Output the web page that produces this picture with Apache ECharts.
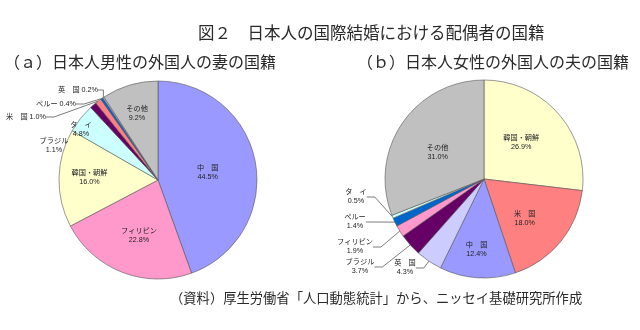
<!DOCTYPE html>
<html>
<head>
<meta charset="utf-8">
<script src="https://cdn.jsdelivr.net/npm/echarts@6/dist/echarts.min.js"></script>
<style>
html,body{margin:0;padding:0;background:#fff;}
#c{width:640px;height:330px;}
</style>
</head>
<body>
<div id="c"></div>
<script>
// ---- data ----
const chartTitle = '図２　日本人の国際結婚における配偶者の国籍';
const leftTitle = '（ａ）日本人男性の外国人の妻の国籍';
const rightTitle = '（ｂ）日本人女性の外国人の夫の国籍';
const sourceNote = '（資料）厚生労働省「人口動態統計」から、ニッセイ基礎研究所作成';

const leftNames = ['中　国', 'フィリピン', '韓国・朝鮮', 'タ　イ', 'ブラジル', '米　国', 'ペルー', '英　国', 'その他'];
const leftValues = [44.5, 22.8, 16.0, 4.8, 1.1, 1.0, 0.4, 0.2, 9.2];

const rightNames = ['韓国・朝鮮', '米　国', '中　国', '英　国', 'ブラジル', 'フィリピン', 'ペルー', 'タ　イ', 'その他'];
const rightValues = [26.9, 18.0, 12.4, 4.3, 3.7, 1.9, 1.4, 0.5, 31.0];

// ---- styles ----
const colors = {
  '中　国': '#9999FF',
  'フィリピン': '#FF99CC',
  '韓国・朝鮮': '#FFFFCC',
  'タ　イ': '#CCFFFF',
  'ブラジル': '#660066',
  '米　国': '#FF8080',
  'ペルー': '#0066CC',
  '英　国': '#CCCCFF',
  'その他': '#C0C0C0'
};
const FONT = "'Liberation Sans', 'Noto Sans CJK JP', sans-serif";
const JFONT = "'Noto Sans CJK JP', sans-serif";

// label placement (text positioning only)
const labelPlace = [
  { // left pie
    '中　国': {dx: -2, dy: 2},
    'フィリピン': {dx: 0, dy: 7},
    '韓国・朝鮮': {dx: -16, dy: -1},
    'タ　イ': {dx: -36, dy: -18},
    'その他': {dx: -6, dy: -16},
    'ブラジル': {out: true, x: 54, y: 146, align: 'center', oneLine: false},
    '米　国': {out: true, x: 46, y: 117, align: 'right', oneLine: true},
    'ペルー': {out: true, x: 76, y: 104, align: 'right', oneLine: true},
    '英　国': {out: true, x: 98, y: 90, align: 'right', oneLine: true}
  },
  { // right pie
    '韓国・朝鮮': {dx: -2, dy: -2},
    '米　国': {dx: 0, dy: 6},
    '中　国': {dx: -4, dy: 18},
    'その他': {dx: -3, dy: 3},
    '英　国': {out: true, x: 405, y: 268, align: 'center'},
    'ブラジル': {out: true, x: 360, y: 267, align: 'center'},
    'フィリピン': {out: true, x: 355, y: 247, align: 'center'},
    'ペルー': {out: true, x: 355, y: 222, align: 'center'},
    'タ　イ': {out: true, x: 356, y: 197, align: 'center'}
  }
];

function buildData(names, values, si) {
  return names.map((n, i) => {
    const p = labelPlace[si][n] || {};
    const txt = p.oneLine ? (n + ' ' + values[i].toFixed(1) + '%') : (n + '\n' + values[i].toFixed(1) + '%');
    return {
      name: n,
      value: values[i],
      itemStyle: {color: colors[n]},
      label: {
        position: p.out ? 'outside' : 'inside',
        formatter: txt
      },
      labelLine: {show: !!p.out}
    };
  });
}

function makeSeries(names, values, si, center) {
  return {
    type: 'pie',
    center: center,
    radius: 99,
    startAngle: 90,
    clockwise: true,
    avoidLabelOverlap: false,
    animation: false,
    silent: true,
    itemStyle: {borderColor: '#555', borderWidth: 0.6},
    label: {
      fontSize: 7.2,
      lineHeight: 9,
      color: '#222',
      fontFamily: FONT,
      align: 'center'
    },
    labelLine: {
      show: false,
      length: 10,
      length2: 8,
      smooth: false,
      lineStyle: {color: '#444', width: 0.7}
    },
    labelLayout: function (params) {
      const n = names[params.dataIndex];
      const p = labelPlace[si][n];
      if (!p) return {};
      if (p.out) {
        return {x: p.x, y: p.y, align: p.align, verticalAlign: 'middle'};
      }
      return {dx: p.dx, dy: p.dy};
    },
    data: buildData(names, values, si)
  };
}

const chart = echarts.init(document.getElementById('c'), null, {renderer: 'canvas'});
chart.setOption({
  backgroundColor: '#fff',
  animation: false,
  title: [
    {text: chartTitle, left: 198, top: 24, padding: 0,
     textStyle: {fontSize: 16.5, fontWeight: 'normal', color: '#2a2a2a', fontFamily: JFONT, lineHeight: 17}},
    {text: leftTitle, left: 4, top: 53, padding: 0,
     textStyle: {fontSize: 16, fontWeight: 'normal', color: '#2a2a2a', fontFamily: JFONT, lineHeight: 17}},
    {text: rightTitle, left: 357, top: 53, padding: 0,
     textStyle: {fontSize: 16, fontWeight: 'normal', color: '#2a2a2a', fontFamily: JFONT, lineHeight: 17}},
    {text: sourceNote, left: 170, top: 291, padding: 0,
     textStyle: {fontSize: 13.3, fontWeight: 'normal', color: '#2a2a2a', fontFamily: JFONT, lineHeight: 14}}
  ],
  series: [
    makeSeries(leftNames, leftValues, 0, [158, 180]),
    makeSeries(rightNames, rightValues, 1, [484, 179])
  ]
});
</script>
</body>
</html>
